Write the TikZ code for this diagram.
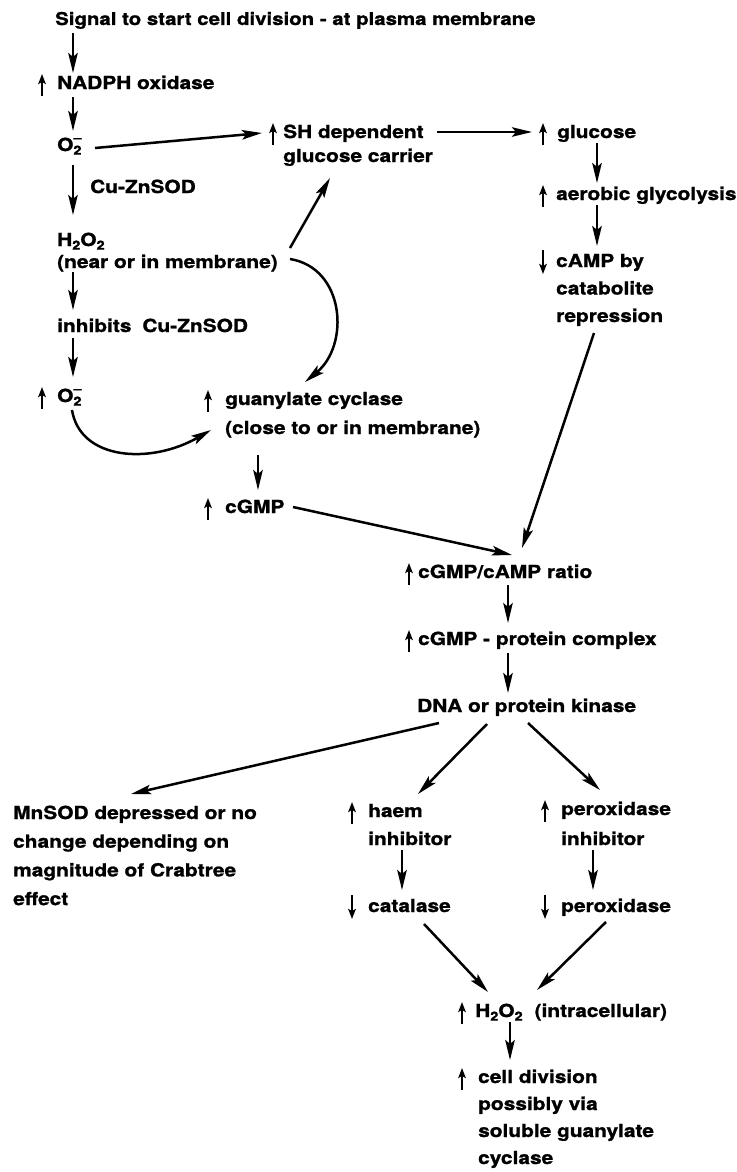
\documentclass[tikz,border=0pt]{standalone}
\usepackage{fontspec}
\usetikzlibrary{arrows.meta}
\newfontfamily\labfont{TeX Gyre Heros}[FakeStretch=1.16,FakeBold=1.2]
% small lowered index, superoxide sign, and left-aligned multi-line text
\newcommand\sub[1]{\raisebox{-0.2em}{\fontsize{12.5}{12.5}\selectfont #1}}
\newcommand\superox{O\rlap{\sub{2}}\raisebox{0.5em}{\fontsize{12.5}{12.5}\selectfont\textendash}}
\newcommand\rows[2]{{\fontsize{18}{#1}\selectfont\begin{tabular}[t]{@{}l@{}}#2\end{tabular}}}
\tikzset{
  lbl/.style={inner sep=0pt, anchor=base west, font=\labfont\bfseries\fontsize{18}{28}\selectfont},
  conn/.style={line width=2.5pt, -{Stealth[length=20pt,width=9.5pt,inset=4pt]}},
  mk/.style={line width=2.2pt, -{Stealth[length=10pt,width=7.5pt,inset=2pt]}}
}
\begin{document}
\begin{tikzpicture}[x=1pt,y=-1pt]
\useasboundingbox (0,0) rectangle (736,1172);

% ---- text nodes (positioned at the baseline of their first line)
\node[lbl, font=\labfont\bfseries\fontsize{17.6}{28}\selectfont] (sig) at (55,25) {Signal to start cell division - at plasma membrane};
\node[lbl] (nadph) at (57,89) {NADPH oxidase};
\node[lbl] (o2a) at (57,151) {\superox};
\node[lbl] (cuzn) at (90,193) {Cu-ZnSOD};
\node[lbl] (h2o2) at (57,246) {\rows{22}{H\sub{2}O\sub{2}\\(near or in membrane)}};
\node[lbl] (inhib) at (57,332) {inhibits\hspace{11pt}Cu-ZnSOD};
\node[lbl] (o2b) at (57,402) {\superox};
\node[lbl] (sh) at (283,138) {\rows{24}{SH dependent\\glucose carrier}};
\node[lbl] (glu) at (557,138) {glucose};
\node[lbl] (aer) at (556,200) {aerobic glycolysis};
\node[lbl] (camp) at (556,267) {\rows{27.5}{cAMP by\\catabolite\\repression}};
\node[lbl] (guc) at (225,405) {\rows{29}{guanylate cyclase\\(close to or in membrane)}};
\node[lbl] (cgmp) at (225,513) {cGMP};
\node[lbl] (ratio) at (418,578) {cGMP/cAMP ratio};
\node[lbl] (cplx) at (418,645) {cGMP - protein complex};
\node[lbl] (dna) at (417,712) {DNA or protein kinase};
\node[lbl] (mnsod) at (13,819) {\rows{28.7}{MnSOD depressed or no\\change depending on\\magnitude of Crabtree\\effect}};
\node[lbl] (haem) at (368,817) {\rows{28}{haem\\inhibitor}};
\node[lbl] (perinh) at (561,815) {\rows{30}{peroxidase\\inhibitor}};
\node[lbl] (cat) at (368,912) {catalase};
\node[lbl] (per) at (561,912) {peroxidase};
\node[lbl] (h2o2i) at (475,1017) {H\sub{2}O\sub{2}\hspace{12pt}(intracellular)};
\node[lbl] (cdiv) at (478,1083) {\rows{27}{cell division\\possibly via\\soluble guanylate\\cyclase}};

% ---- increase / decrease marks beside the labels
\foreach \n/\dx in {nadph/-15, o2b/-15, sh/-10, glu/-14, aer/-13, guc/-17, cgmp/-17,
                    ratio/-9, cplx/-9, haem/-16, perinh/-16, h2o2i/-13, cdiv/-16}
  \draw[mk] ([shift={(\dx,7)}]\n.base west) -- ++(0,-22);
\foreach \n/\dx in {camp/-13, cat/-16, per/-16}
  \draw[mk] ([shift={(\dx,-17)}]\n.base west) -- ++(0,24);

% ---- left column
\draw[conn] ([shift={(18,8)}]sig.base west) -- ([shift={(16,-16)}]nadph.base west);
\draw[conn] ([shift={(16,8)}]nadph.base west) -- ([shift={(16,-20)}]o2a.base west);
\draw[conn] ([shift={(16,14)}]o2a.base west) -- ([shift={(16,-31)}]h2o2.base west);
\draw[conn] ([shift={(16,26)}]h2o2.base west) -- ([shift={(16,-22)}]inhib.base west);
\draw[conn] ([shift={(16,6)}]inhib.base west) -- ([shift={(16,-25)}]o2b.base west);

% ---- towards the glucose carrier and guanylate cyclase
\draw[conn] ([shift={(38,-3)}]o2a.base west) -- ([shift={(-21,-5)}]sh.base west);
\draw[conn] ([shift={(233,2)}]h2o2.base west) -- ([shift={(47,40)}]sh.base west);
\draw[conn] ([shift={(233,13)}]h2o2.base west) .. controls +(55,9) and +(45,-37) .. ([shift={(80,-23)}]guc.base west);
\draw[conn] ([shift={(15,8)}]o2b.base west) .. controls +(8,50) and +(-61,35) .. ([shift={(-14,25)}]guc.base west);
\draw[conn] ([shift={(33,50)}]guc.base west) -- ([shift={(33,-23)}]cgmp.base west);

% ---- right column
\draw[conn] ([shift={(154,-6)}]sh.base west) -- ([shift={(-25,-6)}]glu.base west);
\draw[conn] ([shift={(40,5)}]glu.base west) -- ([shift={(41,-17)}]aer.base west);
\draw[conn] ([shift={(41,5)}]aer.base west) -- ([shift={(41,-21)}]camp.base west);

% ---- convergence on the ratio
\draw[conn] ([shift={(68,-6)}]cgmp.base west) -- ([shift={(94,-23)}]ratio.base west);
\draw[conn] ([shift={(38,66)}]camp.base west) -- ([shift={(104,-30)}]ratio.base west);
\draw[conn] ([shift={(90,7)}]ratio.base west) -- ([shift={(90,-22)}]cplx.base west);
\draw[conn] ([shift={(90,8)}]cplx.base west) -- ([shift={(91,-19)}]dna.base west);

% ---- branches from the kinase
\draw[conn] ([shift={(22,11)}]dna.base west) -- ([shift={(118,-25)}]mnsod.base west);
\draw[conn] ([shift={(70,12)}]dna.base west) -- ([shift={(50,-23)}]haem.base west);
\draw[conn] ([shift={(111,11)}]dna.base west) -- ([shift={(39,-25)}]perinh.base west);
\draw[conn] ([shift={(34,33)}]haem.base west) -- ([shift={(34,-22)}]cat.base west);
\draw[conn] ([shift={(32,35)}]perinh.base west) -- ([shift={(32,-22)}]per.base west);
\draw[conn] ([shift={(56,12)}]cat.base west) -- ([shift={(13,-25)}]h2o2i.base west);
\draw[conn] ([shift={(45,10)}]per.base west) -- ([shift={(62,-27)}]h2o2i.base west);
\draw[conn] ([shift={(35,5)}]h2o2i.base west) -- ([shift={(32,-23)}]cdiv.base west);
\end{tikzpicture}
\end{document}
